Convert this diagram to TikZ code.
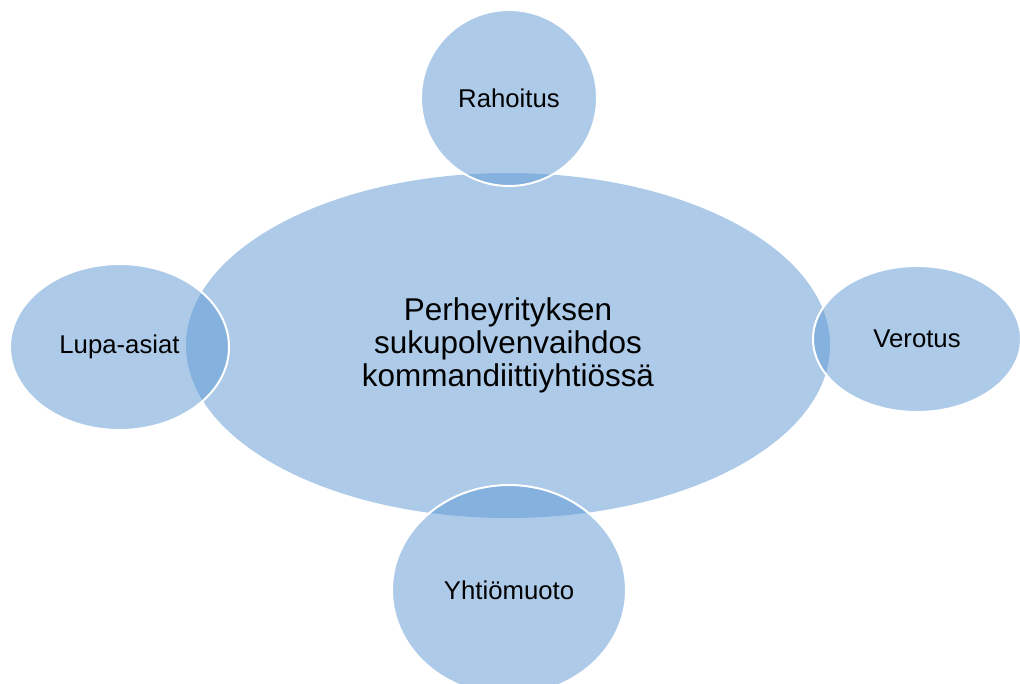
\documentclass[tikz,border=0pt]{standalone}
\usepackage{fontspec}
\setmainfont{Liberation Sans}
\usetikzlibrary{shapes.geometric}
\definecolor{bubble}{RGB}{91,151,211}
\tikzset{
  bubblebase/.style={ellipse, inner sep=0pt, outer sep=0pt, fill=bubble, fill opacity=0.5, text opacity=1, text=black, align=center},
  hub/.style={bubblebase, draw=none, font=\fontsize{23.6pt}{24.8pt}\selectfont},
  sat/.style={bubblebase, draw=white, draw opacity=1, line width=1.5pt, font=\fontsize{19.3pt}{22pt}\selectfont}
}
\begin{document}
\begin{tikzpicture}[x=0.75pt,y=-0.75pt]
\useasboundingbox (0,0) rectangle (1020,683);
\node[hub, minimum width=483pt, minimum height=258.75pt] (center) at (508,345.5) {Perheyrityksen\\sukupolvenvaihdos\\kommandiittiyhtiössä};
\node[sat, minimum width=132pt, minimum height=132pt] (top) at (509,98) {Rahoitus};
\node[sat, minimum width=164.25pt, minimum height=124.5pt] (left) at (119.5,347) {Lupa-asiat};
\node[sat, minimum width=156pt, minimum height=109.5pt] (right) at (917,339) {Verotus};
\node[sat, minimum width=175.5pt, minimum height=157.5pt] (bottom) at (509,590) {Yhtiömuoto};
\end{tikzpicture}
\end{document}
